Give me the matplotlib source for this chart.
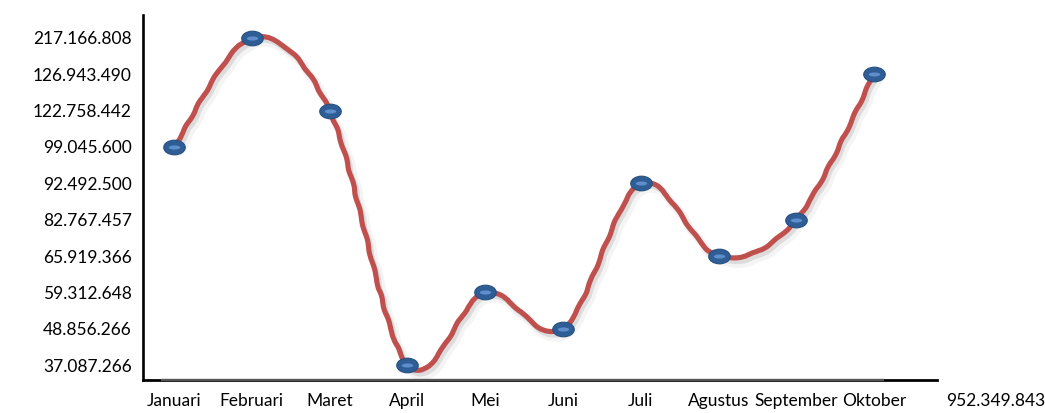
import numpy as np
import matplotlib
matplotlib.use("Agg")
import matplotlib.pyplot as plt
from matplotlib.path import Path
from matplotlib.patches import PathPatch
from matplotlib.transforms import Affine2D
import matplotlib.patheffects as pe

# Monthly totals
months = ["Januari", "Februari", "Maret", "April", "Mei", "Juni",
          "Juli", "Agustus", "September", "Oktober"]
values = [99045600, 217166808, 122758442, 37087266, 59312648,
          48856266, 92492500, 65919366, 82767457, 126943490]

plt.rcParams['font.family'] = ['Lato', 'DejaVu Sans']


def fmt(v):
    return f"{v:,}".replace(",", ".")


# The value axis is ordinal: each distinct value gets its own evenly spaced level
levels = np.sort(values)
ranks = np.arange(len(levels))
x = np.arange(len(months), dtype=float)
y = np.interp(values, levels, ranks)

fig = plt.figure(figsize=(10.45, 4.13), dpi=100)
ax = fig.add_axes([0.1368, 0.0799, 0.7599, 0.8838])
ax.set_xlim(-0.40, 9.81)
ax.set_ylim(-0.41, 9.63)

# Smoothed line: cubic Bezier segments through the points (Catmull-Rom tangents)
pts = np.column_stack([x, y])
verts = [pts[0]]
codes = [Path.MOVETO]
n = len(pts)
for i in range(n - 1):
    p_prev = pts[max(i - 1, 0)]
    p0 = pts[i]
    p1 = pts[i + 1]
    p_next = pts[min(i + 2, n - 1)]
    c1 = p0 + (p1 - p_prev) / 6.0
    c2 = p1 - (p_next - p0) / 6.0
    verts += [c1, c2, p1]
    codes += [Path.CURVE4] * 3
curve = PathPatch(Path(verts, codes), fill=False, edgecolor="#C0504D",
                  linewidth=3.7, capstyle="round", joinstyle="round", zorder=3)
curve.set_sketch_params(scale=0.6, length=32, randomness=2)
curve.set_path_effects([
    pe.SimpleLineShadow(offset=(3.0, -4.0), shadow_color="0.45", alpha=0.08, linewidth=6.5),
    pe.SimpleLineShadow(offset=(1.8, -2.6), shadow_color="0.45", alpha=0.18),
    pe.Normal(),
])
ax.add_patch(curve)

# Oval markers with a light highlight
oval = Path.unit_circle().transformed(Affine2D().scale(1.0, 0.68))
dash = Path.unit_circle().transformed(Affine2D().scale(1.0, 0.36))
ax.plot(x, y, ls="none", marker=oval, ms=15.5, mfc="#2F5D95", mec="#26507F",
        mew=0.8, zorder=4)
ax.plot(x, y, ls="none", marker=dash, ms=8.2, mfc="#5E8FCC", mec="none", zorder=5)

# Axes styling
ax.set_yticks(ranks, [fmt(v) for v in levels])
ax.set_xticks(x, months)
ax.tick_params(axis="both", length=0, labelsize=12.5, colors="black")
ax.tick_params(axis="y", pad=8)
ax.tick_params(axis="x", pad=9)
for side in ("top", "right"):
    ax.spines[side].set_visible(False)
ax.spines["left"].set_linewidth(1.9)
ax.spines["bottom"].set_linewidth(2.0)
ax.spines["left"].set_color("black")
ax.spines["bottom"].set_color("black")
ax.plot([0.023, 0.933], [-0.001, -0.001], transform=ax.transAxes, color="#555555",
        lw=1.7, clip_on=False, zorder=6, solid_capstyle="butt")

# Grand total beside the month labels
ax.annotate(fmt(int(np.sum(values))), xy=(10.57, 0), xycoords=ax.get_xaxis_transform(),
            xytext=(0, -9), textcoords="offset points", ha="center", va="top",
            fontsize=12.5, annotation_clip=False)

fig.savefig("out.png", dpi=100, facecolor="white")
